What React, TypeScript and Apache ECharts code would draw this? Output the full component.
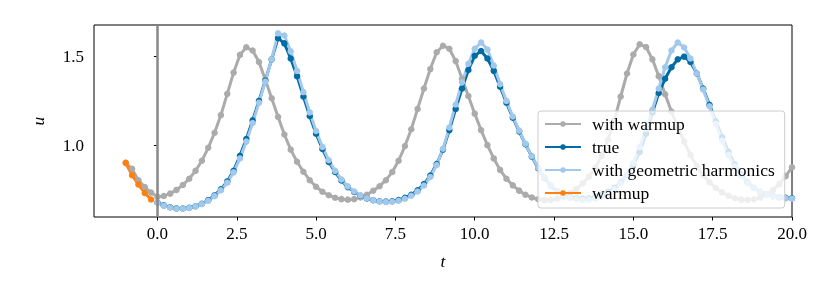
import { useEffect, useRef } from "react";
import * as echarts from "echarts";

const DT = 0.2;
const WITH_WARMUP_START = -1.0;
const MODEL_START = 0.0;
const WARMUP_START = -1.0;
const WARMUP_MARK_T = 0;

const X_TICKS = [0, 2.5, 5, 7.5, 10, 12.5, 15, 17.5, 20];
const Y_TICKS = [1.0, 1.5];

// u(t) sampled every 0.2, starting at t = -1.0
const withWarmupVals = [
  0.900, 0.866, 0.802, 0.763, 0.732,
  0.708, 0.713, 0.726, 0.747, 0.775, 0.810, 0.855, 0.912, 0.985, 1.070,
  1.170, 1.290, 1.410, 1.510, 1.553, 1.535, 1.470, 1.370, 1.265, 1.160,
  1.060, 0.975, 0.906, 0.850, 0.802, 0.765, 0.737, 0.717, 0.703, 0.695,
  0.692, 0.695, 0.705, 0.720, 0.742, 0.768, 0.802, 0.848, 0.912, 0.995,
  1.090, 1.205, 1.320, 1.430, 1.525, 1.562, 1.545, 1.475, 1.375, 1.278,
  1.178, 1.085, 1.000, 0.925, 0.860, 0.810, 0.773, 0.743, 0.720, 0.704,
  0.694, 0.689, 0.690, 0.697, 0.710, 0.728, 0.752, 0.783, 0.822, 0.872,
  0.940, 1.030, 1.140, 1.275, 1.405, 1.512, 1.570, 1.555, 1.485, 1.390,
  1.288, 1.190, 1.100, 1.020, 0.945, 0.882, 0.830, 0.790, 0.758, 0.733,
  0.714, 0.700, 0.692, 0.690, 0.694, 0.705, 0.722, 0.746, 0.780, 0.825,
  0.875,
];

// u(t) sampled every 0.2, starting at t = 0
const trueVals = [
  0.676, 0.660, 0.649, 0.643, 0.642, 0.646, 0.655, 0.669, 0.689, 0.716,
  0.750, 0.795, 0.855, 0.940, 1.035, 1.140, 1.250, 1.365, 1.485, 1.605,
  1.575, 1.490, 1.390, 1.275, 1.165, 1.065, 0.978, 0.905, 0.848, 0.800,
  0.763, 0.735, 0.714, 0.699, 0.689, 0.683, 0.681, 0.683, 0.690, 0.702,
  0.720, 0.745, 0.780, 0.828, 0.893, 0.975, 1.085, 1.205, 1.320, 1.425,
  1.505, 1.532, 1.490, 1.420, 1.330, 1.240, 1.155, 1.078, 1.005, 0.935,
  0.870, 0.815, 0.770, 0.738, 0.718, 0.706, 0.700, 0.698, 0.700, 0.707,
  0.718, 0.735, 0.758, 0.790, 0.833, 0.890, 0.962, 1.065, 1.185, 1.295,
  1.375, 1.440, 1.485, 1.500, 1.470, 1.405, 1.320, 1.228, 1.135, 1.045,
  0.962, 0.890, 0.833, 0.790, 0.758, 0.737, 0.722, 0.712, 0.706, 0.702,
  0.700,
];

// u(t) sampled every 0.2, starting at t = 0
const geoHarmVals = [
  0.676, 0.658, 0.648, 0.642, 0.641, 0.645, 0.654, 0.667, 0.686, 0.712,
  0.745, 0.788, 0.846, 0.925, 1.020, 1.125, 1.240, 1.360, 1.485, 1.632,
  1.620, 1.530, 1.420, 1.300, 1.185, 1.080, 0.990, 0.915, 0.855, 0.806,
  0.767, 0.738, 0.716, 0.700, 0.689, 0.682, 0.679, 0.680, 0.686, 0.697,
  0.714, 0.738, 0.772, 0.820, 0.888, 0.980, 1.100, 1.230, 1.355, 1.460,
  1.545, 1.580, 1.540, 1.450, 1.345, 1.250, 1.162, 1.082, 1.008, 0.937,
  0.872, 0.817, 0.771, 0.737, 0.715, 0.702, 0.694, 0.691, 0.692, 0.698,
  0.709, 0.727, 0.752, 0.787, 0.835, 0.900, 0.990, 1.090, 1.200, 1.320,
  1.440, 1.535, 1.580, 1.552, 1.490, 1.405, 1.315, 1.220, 1.120, 1.025,
  0.945, 0.880, 0.828, 0.788, 0.758, 0.737, 0.722, 0.712, 0.705, 0.700,
  0.697,
];

// warmup u(t) sampled every 0.2, starting at t = -1.0
const warmupVals = [0.900, 0.830, 0.778, 0.730, 0.693];

const SERIES_NAMES = ["with warmup", "true", "with geometric harmonics", "warmup"];
const COLORS = ["#ABABAB", "#006BA4", "#A2C8EC", "#FF800E"];

const toPairs = (vals: number[], t0: number) =>
  vals.map((v, i) => [Math.round((t0 + i * DT) * 10) / 10, v]);

const FONT = "Liberation Serif";

export default function App() {
  const ref = useRef<HTMLDivElement>(null);

  useEffect(() => {
    if (!ref.current) return;
    const chart = echarts.init(ref.current, undefined, { renderer: "svg" });

    const mkLine = (name: string, color: string, data: number[][]) => ({
      name,
      type: "line",
      data,
      z: 2,
      symbol: "circle",
      symbolSize: 6.5,
      showSymbol: true,
      showAllSymbol: true,
      silent: true,
      lineStyle: { color, width: 3 },
      itemStyle: { color, borderWidth: 0 },
      emphasis: { disabled: true },
    });

    chart.setOption({
      animation: false,
      grid: {
        left: 94,
        right: 39,
        top: 25,
        bottom: 80,
        show: true,
        borderColor: "#000",
        borderWidth: 1,
        backgroundColor: "transparent",
      },
      xAxis: {
        type: "value",
        min: -2,
        max: 20,
        name: "t",
        nameLocation: "middle",
        nameGap: 35,
        nameTextStyle: { fontFamily: FONT, fontStyle: "italic", fontSize: 17.5, color: "#000" },
        axisLine: { show: false },
        splitLine: { show: false },
        axisTick: {
          show: true,
          customValues: X_TICKS,
          length: 3.5,
          lineStyle: { color: "#000", width: 1 },
        },
        axisLabel: {
          customValues: X_TICKS,
          formatter: (v: number) => v.toFixed(1),
          fontFamily: FONT,
          fontSize: 17,
          color: "#000",
          margin: 8,
        },
      },
      yAxis: {
        type: "value",
        min: 0.594,
        max: 1.679,
        name: "u",
        nameLocation: "middle",
        nameGap: 47,
        nameRotate: 90,
        nameTextStyle: { fontFamily: FONT, fontStyle: "italic", fontSize: 17.5, color: "#000" },
        axisLine: { show: false },
        splitLine: { show: false },
        axisTick: {
          show: true,
          customValues: Y_TICKS,
          length: 3.5,
          lineStyle: { color: "#000", width: 1 },
        },
        axisLabel: {
          customValues: Y_TICKS,
          formatter: (v: number) => v.toFixed(1),
          fontFamily: FONT,
          fontSize: 17,
          color: "#000",
          margin: 10,
        },
      },
      legend: {
        orient: "vertical",
        left: 538,
        top: 111,
        data: SERIES_NAMES,
        z: 10,
        backgroundColor: "rgba(255,255,255,0.8)",
        borderColor: "#cccccc",
        borderWidth: 1,
        borderRadius: 3,
        padding: [4, 10, 6, 6],
        itemWidth: 36,
        itemHeight: 7,
        itemGap: 5,
        selectedMode: false,
        textStyle: {
          fontFamily: FONT,
          fontSize: 17.5,
          color: "#000",
          padding: [0, 0, 0, 6],
          lineHeight: 18,
        },
      },
      series: [
        {
          type: "line",
          data: [],
          z: 1,
          silent: true,
          markLine: {
            silent: true,
            symbol: ["none", "none"],
            label: { show: false },
            lineStyle: { color: "#898989", width: 2.5, type: "solid" },
            data: [{ xAxis: WARMUP_MARK_T }],
          },
        },
        mkLine(SERIES_NAMES[0], COLORS[0], toPairs(withWarmupVals, WITH_WARMUP_START)),
        mkLine(SERIES_NAMES[1], COLORS[1], toPairs(trueVals, MODEL_START)),
        mkLine(SERIES_NAMES[2], COLORS[2], toPairs(geoHarmVals, MODEL_START)),
        mkLine(SERIES_NAMES[3], COLORS[3], toPairs(warmupVals, WARMUP_START)),
      ],
    });

    return () => chart.dispose();
  }, []);

  return (
    <div
      ref={ref}
      style={{ position: "fixed", left: 0, top: 0, width: 831, height: 297 }}
    />
  );
}
